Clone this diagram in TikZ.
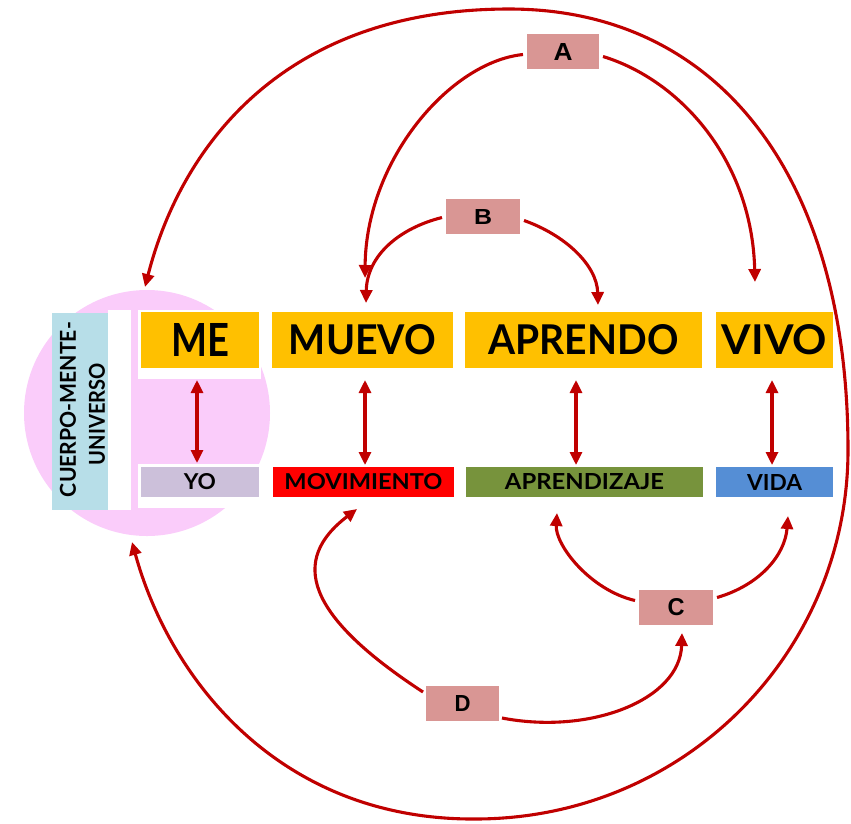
\documentclass[tikz,border=0pt]{standalone}
\usepackage{fontspec}
\setmainfont{Lato}
\newfontfamily\letfont{Liberation Sans}
\usetikzlibrary{arrows.meta}
\definecolor{arr}{RGB}{192,0,0}
\definecolor{pinkc}{RGB}{250,204,250}
\definecolor{bluec}{RGB}{183,222,232}
\definecolor{orgc}{RGB}{255,192,0}
\definecolor{lavc}{RGB}{204,192,218}
\definecolor{redc}{RGB}{255,0,0}
\definecolor{grnc}{RGB}{119,147,60}
\definecolor{vblc}{RGB}{85,142,213}
\definecolor{labc}{RGB}{217,150,148}
\newcommand{\fitT}[3]{\resizebox{#1pt}{#2pt}{\bfseries #3}}
\newcommand{\fitL}[3]{\resizebox{#1pt}{#2pt}{\letfont\bfseries #3}}
\begin{document}
\begin{tikzpicture}[x=1pt,y=-1pt,
  bigbox/.style={fill=orgc, minimum height=56pt, inner sep=0pt, outer sep=0pt},
  smallbox/.style={minimum height=30pt, inner sep=0pt, outer sep=0pt},
  labbox/.style={fill=labc, minimum width=73pt, minimum height=35pt, inner sep=0pt, outer sep=0pt},
  txt/.style={inner sep=0pt, outer sep=0pt},
  con/.style={draw=arr, line width=3.1pt, -{Triangle[length=13pt,width=12pt]}},
  dblcon/.style={draw=arr, line width=3.1pt, {Triangle[length=13pt,width=12pt]}-{Triangle[length=13pt,width=12pt]}}]
\useasboundingbox (0,0) rectangle (851,823);
% pink circle
\node[circle, fill=pinkc, minimum size=246pt, inner sep=0pt, outer sep=0pt] (circ) at (147,413) {};
% white frame
\fill[white] (108,310) rectangle (131,510);
\fill[white] (138,310) rectangle (261,379);
\fill[white] (138,464) rectangle (261,508);
% blue box with vertical text
\node[fill=bluec, minimum width=56pt, minimum height=197pt, inner sep=0pt] (cmu) at (80,411.5) {};
\node[txt, rotate=90] (cmu1) at (68,409.5) {\fitT{175}{16}{CUERPO-MENTE-}};
\node[txt, rotate=90] (cmu2) at (97,414) {\fitT{102}{16}{UNIVERSO}};
% top row
\node[bigbox, minimum width=118pt] (me) at (200,340) {\fitT{58}{33}{ME}};
\node[bigbox, minimum width=181pt] (muevo) at (362.5,340) {\fitT{147}{30}{MUEVO}};
\node[bigbox, minimum width=237pt] (aprendo) at (583.5,340) {\fitT{190}{30}{APRENDO}};
\node[bigbox, minimum width=117pt] (vivo) at (774.5,340) {\fitT{105}{30}{VIVO}};
% bottom row
\node[smallbox, fill=lavc, minimum width=118pt] (yo) at (200,482) {\fitT{32}{16}{YO}};
\node[smallbox, fill=redc, minimum width=181pt] (movimiento) at (363.5,482) {\fitT{158}{16}{MOVIMIENTO}};
\node[smallbox, fill=grnc, minimum width=237pt] (aprendizaje) at (584.5,482) {\fitT{159}{16}{APRENDIZAJE}};
\node[smallbox, fill=vblc, minimum width=117pt] (vida) at (774.5,482) {\fitT{55}{16}{VIDA}};
% labels
\node[labbox, minimum width=72pt] (A) at (563,51.5) {\fitL{19}{17}{A}};
\node[labbox, minimum width=74pt] (B) at (483,216.5) {\fitL{18}{15}{B}};
\node[labbox, minimum width=74pt] (C) at (676,607.5) {\fitL{17}{17}{C}};
\node[labbox, minimum width=73pt] (D) at (462.5,703) {\fitL{16}{16}{D}};
% vertical double arrows
\draw[dblcon] ([shift={(-3,12)}]me.south) -- ([shift={(-3,-4)}]yo.north);
\draw[dblcon] ([shift={(2.5,12)}]muevo.south) -- ([shift={(1.5,-2)}]movimiento.north);
\draw[dblcon] ([shift={(-7.5,12)}]aprendo.south) -- ([shift={(-8.5,-2)}]aprendizaje.north);
\draw[dblcon] ([shift={(-2.5,12)}]vivo.south) -- ([shift={(-2.5,-2)}]vida.north);
% A
\draw[con] ([shift={(-4,3)}]A.west) .. controls (450,62) and (366,160) .. ([shift={(2.5,-34)}]muevo.north);
\draw[con] ([shift={(4,5)}]A.east) .. controls (680,80) and (752,160) .. ([shift={(-19.5,-30)}]vivo.north);
% B
\draw[con] ([shift={(-4,1)}]B.west) .. controls (400,228) and (367,255) .. ([shift={(3.5,-9)}]muevo.north);
\draw[con] ([shift={(4,4)}]B.east) .. controls (565,235) and (597,265) .. ([shift={(14.5,-7)}]aprendo.north);
% C
\draw[con] ([shift={(-4,-7)}]C.west) .. controls (590,590) and (555,545) .. ([shift={(-27.5,16)}]aprendizaje.south);
\draw[con] ([shift={(4,-10)}]C.east) .. controls (760,585) and (785,555) .. ([shift={(13.5,19)}]vida.south);
% D
\draw[con] ([shift={(-3,-11)}]D.west) .. controls (305,615) and (290,560) .. ([shift={(-6.5,12)}]movimiento.south);
\draw[con] ([shift={(3,15)}]D.east) .. controls (590,735) and (680,700) .. ([shift={(6,8)}]C.south);
% outer loop
\coordinate (otop) at (509,9);
\coordinate (oright) at (848,450);
\coordinate (obot) at (475,819);
\draw[dblcon] ([shift={(-2,-3)}]circ.north) .. controls (180,150) and (280,9) .. (otop)
  .. controls (719,9) and (848,177) .. (oright)
  .. controls (848,652) and (685,819) .. (obot)
  .. controls (280,820) and (170,680) .. ([shift={(-15,6)}]circ.south);
\end{tikzpicture}
\end{document}
